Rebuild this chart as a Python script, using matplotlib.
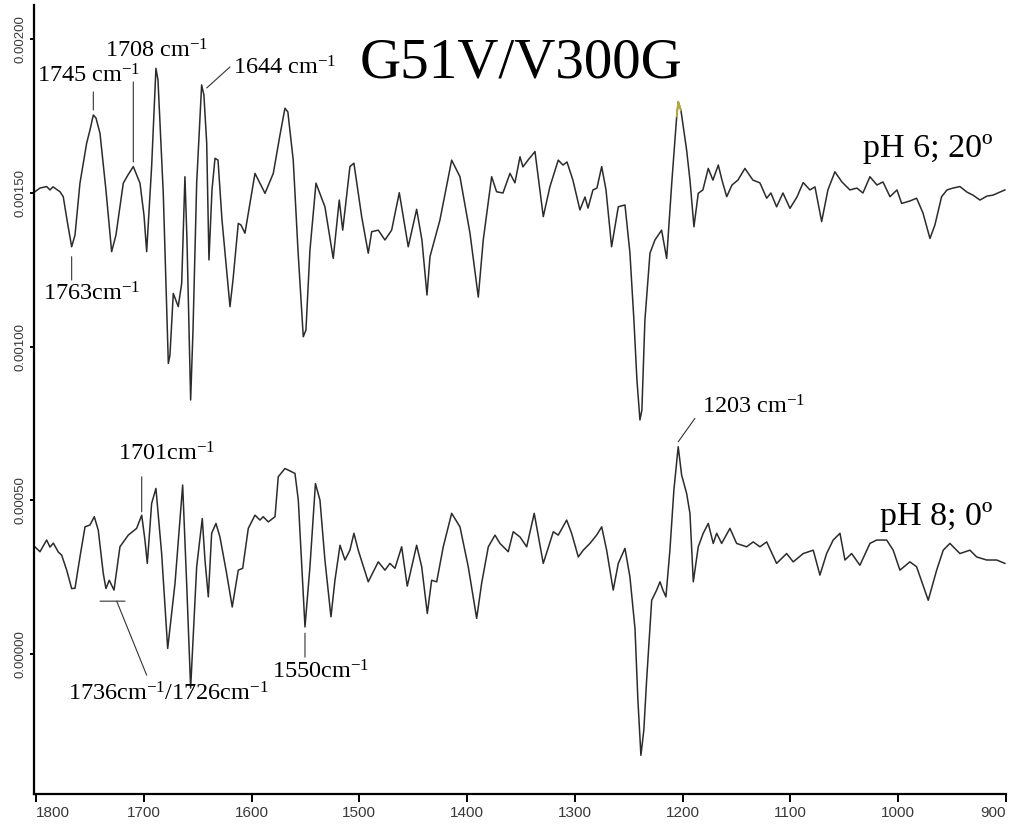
import matplotlib
matplotlib.use('Agg')
import matplotlib.pyplot as plt
import numpy as np

plt.rcParams.update({
    'font.family': 'Liberation Serif',
    'mathtext.fontset': 'custom',
    'mathtext.rm': 'Liberation Serif',
    'mathtext.it': 'Liberation Serif:italic',
    'mathtext.bf': 'Liberation Serif:bold',
})

# pH 6; 20º spectrum: wavenumber (cm-1) and absorbance (x 1e-5)
wn_ph6 = [1801, 1796.3, 1790.1, 1787.0, 1784.2, 1777.7, 1774.7, 1771.2, 1766.9, 1763.8,
          1759.2, 1753.0, 1749.9, 1746.8, 1744.3, 1740.6, 1735.1, 1729.8, 1725.8, 1719.0,
          1714.6, 1709.7, 1703.5, 1699.8, 1697.3, 1692.7, 1688.7, 1686.8, 1681.9, 1677.2,
          1675.7, 1672.6, 1668.0, 1664.8, 1661.8, 1659.9, 1656.5, 1654.3, 1650.9, 1646.3,
          1644.2, 1641.6, 1639.5, 1636.7, 1633.9, 1631.1, 1627.4, 1620.0, 1617.2, 1612.3,
          1609.8, 1606.1, 1596.8, 1587.5, 1579.8, 1573.6, 1569.0, 1566.3, 1561.3, 1556.9,
          1552.0, 1549.5, 1545.8, 1540.2, 1531.9, 1524.2, 1518.6, 1515.4, 1508.7, 1505.0,
          1497.8, 1491.7, 1488.5, 1482.4, 1476.2, 1470.0, 1462.9, 1454.6, 1446.8, 1441.9,
          1437.2, 1434.4, 1425.2, 1414.3, 1406.6, 1397.3, 1389.6, 1385.0, 1377.2, 1372.6,
          1366.7, 1360.2, 1355.6, 1350.9, 1348.2, 1343.5, 1337.0, 1329.3, 1323.1, 1315.4,
          1311.0, 1307.3, 1301.8, 1295.3, 1290.6, 1287.8, 1283.2, 1279.5, 1275.1, 1271.1,
          1265.9, 1259.7, 1253.5, 1248.9, 1245.2, 1242.4, 1239.6, 1237.8, 1235.0, 1230.3,
          1225.7, 1219.5, 1214.8, 1209.9, 1205.5, 1204.1, 1201.6, 1196.3, 1193.2, 1189.5,
          1185.5, 1181.2, 1176.2, 1171.9, 1166.9, 1163.5, 1159.1, 1154.2, 1148.7, 1142.2,
          1134.8, 1128.3, 1122.0, 1118.1, 1112.8, 1106.9, 1100.4, 1093.9, 1088.1, 1081.9,
          1077.2, 1071.0, 1065.2, 1058.7, 1052.2, 1044.8, 1038.3, 1032.7, 1026.2, 1019.7,
          1014.1, 1007.6, 1001.1, 996.8, 989.1, 982.9, 977.0, 970.5, 965.9, 959.7,
          954.7, 949.2, 942.7, 936.2, 930.6, 924.1, 917.6, 912.1, 905.6, 901.0]
abs_ph6 = [150.4, 151.6, 152.1, 151.0, 152.0, 150.4, 148.8, 141.2, 132.5, 136.3,
           153.2, 166.2, 170.5, 175.4, 174.4, 169.4, 151.0, 130.9, 136.3, 153.2,
           155.9, 158.6, 153.2, 142.8, 130.9, 158.6, 190.6, 186.8, 149.9, 94.5,
           97.2, 117.3, 113.0, 120.6, 155.3, 134.7, 82.6, 105.4, 153.2, 185.2,
           181.9, 166.3, 128.2, 151.0, 161.3, 160.7, 141.2, 113.0, 121.7, 140.1,
           139.6, 136.9, 156.4, 149.9, 156.4, 168.9, 177.6, 176.4, 160.7, 131.4,
           103.2, 105.4, 131.4, 153.2, 145.5, 128.7, 147.7, 137.9, 158.6, 159.7,
           142.3, 130.4, 137.4, 137.9, 134.7, 137.9, 150.1, 132.5, 144.7, 134.7,
           116.8, 129.3, 141.2, 160.7, 155.3, 136.9, 116.1, 134.7, 155.3, 150.4,
           150.0, 156.4, 153.3, 161.8, 158.5, 160.7, 163.5, 142.3, 152.1, 160.7,
           159.1, 160.1, 154.2, 144.5, 148.7, 145.1, 151.0, 151.6, 158.6, 151.0,
           132.5, 145.5, 146.1, 130.5, 108.6, 89.1, 76.1, 79.3, 108.6, 130.4,
           134.7, 137.9, 128.7, 154.2, 174.9, 179.7, 177.0, 164.0, 154.2, 139.0,
           149.9, 151.0, 158.0, 154.2, 159.1, 154.2, 148.8, 152.6, 154.2, 158.0,
           154.2, 153.3, 148.3, 150.0, 145.5, 150.0, 145.0, 148.7, 153.4, 151.0,
           152.0, 140.7, 151.0, 156.9, 153.6, 151.0, 151.6, 150.0, 155.3, 152.6,
           153.6, 148.8, 151.0, 146.6, 147.4, 148.3, 143.5, 135.2, 139.6, 148.8,
           151.0, 151.6, 152.1, 150.3, 149.3, 147.7, 149.0, 149.3, 150.3, 151.0]

# pH 8; 0º spectrum
wn_ph8 = [1801, 1796.3, 1790.1, 1787.0, 1783.9, 1779.3, 1776.2, 1771.5, 1766.9, 1763.8,
          1759.2, 1754.5, 1749.9, 1745.9, 1742.2, 1737.6, 1735.1, 1732.0, 1727.6, 1722.1,
          1714.4, 1706.6, 1701.9, 1698.9, 1696.7, 1692.7, 1688.7, 1683.4, 1677.8, 1671.0,
          1663.9, 1660.2, 1656.5, 1654.3, 1650.9, 1645.7, 1643.2, 1640.1, 1637.0, 1633.0,
          1629.3, 1623.1, 1617.9, 1612.3, 1608.2, 1603.0, 1596.8, 1592.2, 1589.1, 1584.5,
          1578.2, 1575.2, 1569.0, 1559.7, 1556.6, 1550.4, 1545.8, 1540.7, 1536.5, 1531.9,
          1526.3, 1522.6, 1517.9, 1513.3, 1508.7, 1505.0, 1501.0, 1491.7, 1482.4, 1476.2,
          1471.6, 1466.9, 1460.7, 1455.5, 1446.8, 1442.1, 1436.9, 1432.9, 1428.2, 1422.1,
          1414.3, 1406.6, 1398.9, 1391.1, 1386.5, 1380.3, 1374.1, 1369.5, 1361.8, 1357.2,
          1350.9, 1344.7, 1337.7, 1329.3, 1320.0, 1315.4, 1307.6, 1303.0, 1296.8, 1292.2,
          1286.0, 1279.8, 1275.1, 1270.5, 1264.4, 1259.7, 1253.5, 1248.9, 1244.2, 1241.5,
          1238.7, 1236.0, 1233.4, 1228.7, 1224.1, 1221.0, 1218.3, 1215.5, 1211.8, 1208.1,
          1204.1, 1200.9, 1196.3, 1193.2, 1190.1, 1185.5, 1180.9, 1176.2, 1171.6, 1168.4,
          1163.8, 1156.1, 1149.9, 1140.6, 1134.5, 1128.3, 1122.0, 1112.8, 1103.5, 1097.4,
          1088.1, 1078.8, 1072.6, 1066.4, 1060.3, 1054.0, 1049.4, 1043.2, 1035.5, 1026.2,
          1020.0, 1010.7, 1004.6, 998.4, 989.1, 982.9, 972.1, 964.3, 958.2, 952.0,
          942.7, 933.4, 927.2, 917.9, 908.6, 901.0]
abs_ph8 = [34.8, 33.2, 37.0, 34.7, 36.0, 33.1, 32.1, 27.2, 21.2, 21.3,
           31.5, 41.3, 41.9, 44.6, 40.2, 26.2, 21.2, 23.9, 20.7, 34.8,
           38.6, 40.8, 45.1, 37.0, 29.4, 48.9, 53.8, 32.6, 1.7, 22.9,
           54.9, 22.9, -11.2, 4.4, 28.3, 44.0, 30.5, 18.5, 39.2, 42.4,
           38.0, 26.1, 15.2, 27.2, 27.8, 40.8, 45.1, 43.5, 44.6, 42.9,
           44.6, 57.6, 60.3, 58.7, 50.0, 8.7, 28.3, 55.4, 50.0, 30.5,
           12.0, 23.9, 35.3, 30.5, 33.7, 39.2, 33.7, 23.4, 29.9, 27.2,
           29.4, 27.8, 34.8, 22.0, 35.3, 28.3, 13.1, 23.9, 23.4, 34.8,
           45.7, 41.3, 28.3, 11.5, 22.9, 34.8, 38.6, 35.9, 33.2, 39.7,
           38.0, 34.8, 45.7, 29.4, 39.7, 38.6, 43.5, 39.2, 31.5, 33.7,
           35.9, 38.6, 41.3, 33.7, 20.7, 29.4, 34.3, 25.0, 8.2, -15.1,
           -33.1, -24.9, -8.6, 17.4, 20.7, 23.4, 20.7, 18.5, 33.7, 53.3,
           67.4, 58.1, 52.2, 45.7, 23.4, 34.8, 39.2, 42.4, 35.9, 39.2,
           35.9, 40.8, 35.9, 34.8, 36.4, 34.8, 36.4, 29.4, 32.6, 29.9,
           32.6, 33.7, 25.6, 32.6, 37.0, 39.2, 30.5, 32.6, 28.8, 35.9,
           37.0, 37.0, 33.7, 27.2, 29.9, 28.3, 17.4, 27.2, 33.7, 35.9,
           32.6, 33.7, 31.5, 30.5, 30.5, 29.4]

x_ticks = [1800, 1700, 1600, 1500, 1400, 1300, 1200, 1100, 1000, 900]
y_ticks = [0.0, 0.0005, 0.0010, 0.0015, 0.0020]

CM = r'cm$^{-1}$'

wn6 = np.array(wn_ph6)
ab6 = np.array(abs_ph6) * 1e-5
wn8 = np.array(wn_ph8)
ab8 = np.array(abs_ph8) * 1e-5

fig = plt.figure(figsize=(10.11, 8.26), dpi=100)
ax = fig.add_axes([0.0341, 0.0387, 0.9609, 0.9552])

line_col = '#2b2b2b'
ax.plot(wn6, ab6, color=line_col, lw=1.1)
ax.plot(wn8, ab8, color=line_col, lw=1.1)
# yellowish tip on top of the 1203 band (upper trace)
ax.plot(wn6[124:127], ab6[124:127], color='#b8aa3c', lw=1.3)

ax.set_xlim(1801.4, 900)
ax.set_ylim(-0.000457, 0.002112)

for s in ['top', 'right']:
    ax.spines[s].set_visible(False)
for s in ['left', 'bottom']:
    ax.spines[s].set_linewidth(1.6)
    ax.spines[s].set_color('black')

ax.set_xticks(x_ticks)
xlabs = ax.set_xticklabels([str(t) for t in x_ticks], family='Liberation Sans',
                           fontsize=11, color='#383838')
xlabs[0].set_horizontalalignment('left')
xlabs[-1].set_horizontalalignment('right')
ax.set_yticks(y_ticks)
ax.set_yticklabels(['%.5f' % t for t in y_ticks], family='Liberation Sans',
                   fontsize=9.5, color='#383838', rotation=90, va='center')
ax.tick_params(axis='x', direction='out', length=5.5, width=1.4, pad=3)
ax.tick_params(axis='y', direction='out', length=3, width=1.4, pad=3)

lab_fs = 17.5
seg = dict(arrowstyle='-', color='#333333', lw=0.8, shrinkA=0, shrinkB=0)

# upper trace labels
ax.text(1799.1, 0.0018583, '1745 ' + CM, fontsize=lab_fs, va='baseline')
ax.annotate('', xy=(1746.8, 0.0017704), xytext=(1746.8, 0.0018290), arrowprops=seg)
ax.text(1736.0, 0.0019397, '1708 ' + CM, fontsize=lab_fs, va='baseline')
ax.annotate('', xy=(1709.7, 0.0016010), xytext=(1709.7, 0.0018616), arrowprops=seg)
ax.text(1617.2, 0.0018844, '1644 ' + CM, fontsize=lab_fs, va='baseline')
ax.annotate('', xy=(1641.6, 0.0018420), xytext=(1620.0, 0.0019104), arrowprops=seg)
ax.text(1793.5, 0.0011515, '1763' + CM, fontsize=lab_fs, va='baseline')
ax.annotate('', xy=(1766.9, 0.0012925), xytext=(1766.9, 0.0012166), arrowprops=seg)

# lower trace labels
ax.text(1723.9, 0.0006303, '1701' + CM, fontsize=lab_fs, va='baseline')
ax.annotate('', xy=(1701.9, 0.0004619), xytext=(1701.9, 0.0005759), arrowprops=seg)
ax.annotate('', xy=(1717.4, 0.000171), xytext=(1740.6, 0.000171), arrowprops=seg)
ax.annotate('', xy=(1725.1, 0.000171), xytext=(1697.3, -0.00007), arrowprops=seg)
ax.text(1770.3, -0.0001515, '1736' + CM + '/1726' + CM, fontsize=lab_fs, va='baseline')
ax.text(1581.0, -0.0000798, '1550' + CM, fontsize=lab_fs, va='baseline')
ax.annotate('', xy=(1550.4, 0.0000668), xytext=(1550.4, -0.0000114), arrowprops=seg)
ax.text(1182.1, 0.0007834, '1203 ' + CM, fontsize=lab_fs, va='baseline')
ax.annotate('', xy=(1204.1, 0.0006899), xytext=(1188.6, 0.0007661), arrowprops=seg)

# condition labels and title
ax.text(1032.7, 0.0016173, 'pH 6; 20º', fontsize=24.5, va='baseline')
ax.text(1016.9, 0.0004186, 'pH 8; 0º', fontsize=24.5, va='baseline')
ax.text(1499.4, 0.0018746, 'G51V/V300G', fontsize=41, va='baseline')

fig.savefig('out.png', dpi=100)
